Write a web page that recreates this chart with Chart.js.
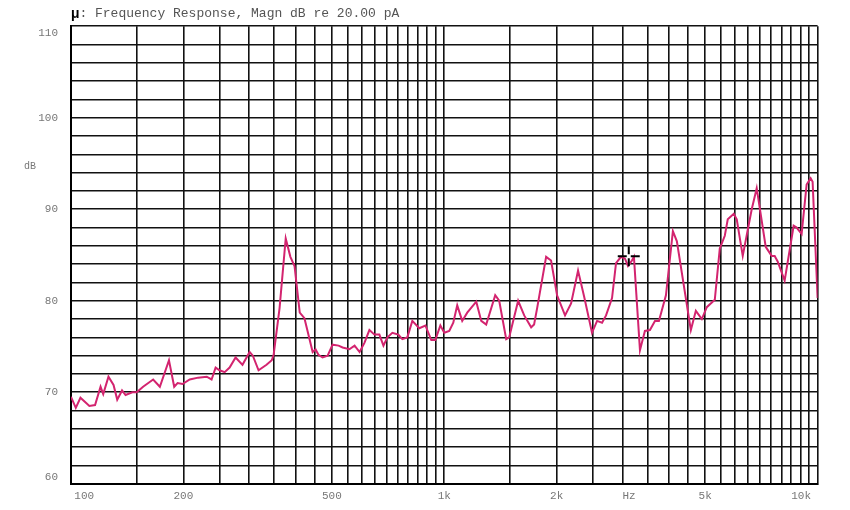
<!DOCTYPE html>
<html lang="en">
<head>
  <meta charset="UTF-8">
  <title>Frequency Response</title>
  <script src="https://cdn.jsdelivr.net/npm/chart.js"></script>
  <style>
    body { margin: 0; background: #fff; }
    canvas { display: block; }
  </style>
</head>
<body>
  <canvas id="respChart" width="850" height="510"></canvas>
  <script>
    // measured response, Hz / dB re 20 uPa
    const freqs = [100,103,106,110,112,116,120,122,126,130,
      133,137,140,146,150,156,166,173,183,189,
      193,199,208,219,231,238,244,250,258,266,
      276,288,301,307,318,334,345,349,362,376,
      387,397,410,422,444,452,460,472,487,502,
      521,534,557,575,593,611,630,650,670,687,
      704,726,753,772,796,821,857,890,923,946,
      976,1000,1031,1057,1083,1117,1152,1218,1256,1295,
      1369,1403,1465,1492,1577,1637,1709,1740,1773,1874,
      1932,2005,2106,2186,2282,2368,2487,2566,2646,2712,
      2814,2884,2974,3048,3105,3182,3221,3343,3447,3555,
      3667,3758,3924,4096,4198,4576,4719,4896,5049,5304,
      5470,5641,5746,5962,6073,6302,6661,6869,7261,7534,
      7674,7816,8161,8627,8788,9062,9346,9579,9697,10000];
    const levels = [69.5,68.3,69.4,68.8,68.5,68.6,70.6,69.8,71.7,70.8,
      69.2,70.2,69.7,70.0,70.0,70.6,71.4,70.6,73.5,70.6,
      71.0,70.9,71.4,71.6,71.7,71.4,72.7,72.4,72.2,72.7,
      73.8,73.0,74.4,74.0,72.4,73.0,73.5,74.1,79.2,86.8,
      84.8,83.8,78.7,78.1,74.4,74.7,74.1,73.8,74.0,75.2,
      75.1,74.9,74.7,75.1,74.4,75.4,76.8,76.3,76.3,75.1,
      76.0,76.5,76.3,75.8,76.0,77.8,77.0,77.3,75.7,75.7,
      77.3,76.5,76.7,77.6,79.5,77.8,78.7,79.9,77.8,77.4,
      80.6,80.0,75.8,76.0,80.0,78.4,77.1,77.4,79.2,84.8,
      84.4,80.6,78.4,79.7,83.3,80.5,76.5,77.8,77.6,78.4,
      80.3,84.1,84.8,84.6,83.8,84.4,84.8,74.6,76.7,76.8,
      77.8,77.8,80.6,87.6,86.5,76.8,78.9,78.0,79.3,80.1,
      85.7,87.1,88.9,89.5,88.9,84.9,90.0,92.3,85.9,84.9,
      84.9,84.3,82.2,88.2,88.0,87.3,92.7,93.4,93.0,80.3];

    // x labels (spaces nudge the edge labels inside, like the analyzer plot)
    const xTickValues = [100, 200, 500, 1000, 2000, 3000, 5000, 10000];
    const xTickLabels = ['    100', '200', '500', '1k', '2k', '  Hz', '5k', '10k     '];
    const yTickValues = [60, 70, 80, 90, 100, 110];

    const titleText = ': Frequency Response, Magn dB re 20.00 pA';
    const markerFreq = 3120, markerDb = 84.85;

    // grid: 50 Hz steps up to 1k, then 500 Hz steps; 2 dB steps
    const xGrid = [];
    for (let f = 100; f <= 1000; f += 50) xGrid.push(f);
    for (let f = 1500; f <= 10000; f += 500) xGrid.push(f);
    const yGrid = [];
    for (let d = 60; d <= 110; d += 2) yGrid.push(d);

    const tickFont = { family: "'Liberation Mono', monospace", size: 11 };

    const decor = {
      id: 'decor',
      afterDraw(chart) {
        const ctx = chart.ctx;
        const xs = chart.scales.x, ys = chart.scales.y;
        ctx.save();
        ctx.textBaseline = 'middle';
        ctx.fillStyle = '#000';
        ctx.font = "bold 14px 'Liberation Mono', monospace";
        ctx.fillText('\u03bc', 71, 14);
        const w = ctx.measureText('\u03bc').width;
        ctx.fillStyle = '#555';
        ctx.font = "13px 'Liberation Mono', monospace";
        ctx.fillText(titleText, 71 + w, 14);
        ctx.fillStyle = '#777';
        ctx.font = "10px 'Liberation Mono', monospace";
        ctx.fillText('dB', 24, ys.getPixelForValue(94.7));

        // cursor cross
        const cx = xs.getPixelForValue(markerFreq), cy = ys.getPixelForValue(markerDb);
        ctx.strokeStyle = '#000';
        ctx.lineWidth = 2;
        ctx.beginPath();
        ctx.moveTo(cx - 11, cy); ctx.lineTo(cx - 2, cy);
        ctx.moveTo(cx + 2, cy); ctx.lineTo(cx + 11, cy);
        ctx.moveTo(cx, cy - 10); ctx.lineTo(cx, cy - 2);
        ctx.moveTo(cx, cy + 2); ctx.lineTo(cx, cy + 10);
        ctx.stroke();
        ctx.restore();
      }
    };

    const ctx = document.getElementById('respChart').getContext('2d');
    new Chart(ctx, {
      type: 'line',
      data: {
        datasets: [{
          data: freqs.map((f, i) => ({ x: f, y: levels[i] })),
          borderColor: '#d3246f',
          borderWidth: 2,
          pointRadius: 0,
          tension: 0,
          fill: false
        }]
      },
      options: {
        responsive: false,
        animation: false,
        layout: { padding: { top: 25, right: 31, left: 0, bottom: 0 } },
        plugins: { legend: { display: false }, tooltip: { enabled: false } },
        scales: {
          x: {
            type: 'logarithmic',
            min: 100,
            max: 10000,
            afterBuildTicks: s => { s.ticks = xGrid.map(v => ({ value: v })); },
            afterFit: s => { s.height = 22; },
            grid: { color: '#111', lineWidth: 1.6, drawTicks: false },
            border: { color: '#000', width: 2 },
            ticks: {
              autoSkip: false,
              maxRotation: 0,
              padding: 6,
              color: '#777',
              font: tickFont,
              callback: v => {
                const i = xTickValues.indexOf(v);
                return i >= 0 ? xTickLabels[i] : '';
              }
            }
          },
          y: {
            min: 60,
            max: 110,
            afterBuildTicks: s => { s.ticks = yGrid.map(v => ({ value: v })); },
            afterFit: s => { s.width = 71; },
            grid: { color: '#111', lineWidth: 1.6, drawTicks: false },
            border: { color: '#000', width: 2 },
            ticks: {
              autoSkip: false,
              padding: 13,
              color: '#777',
              font: tickFont,
              callback: v => {
                if (!yTickValues.includes(v)) return '';
                if (v === 110) return ['', '110'];
                if (v === 60) return ['60', ''];
                return String(v);
              }
            }
          }
        }
      },
      plugins: [decor]
    });
  </script>
</body>
</html>
